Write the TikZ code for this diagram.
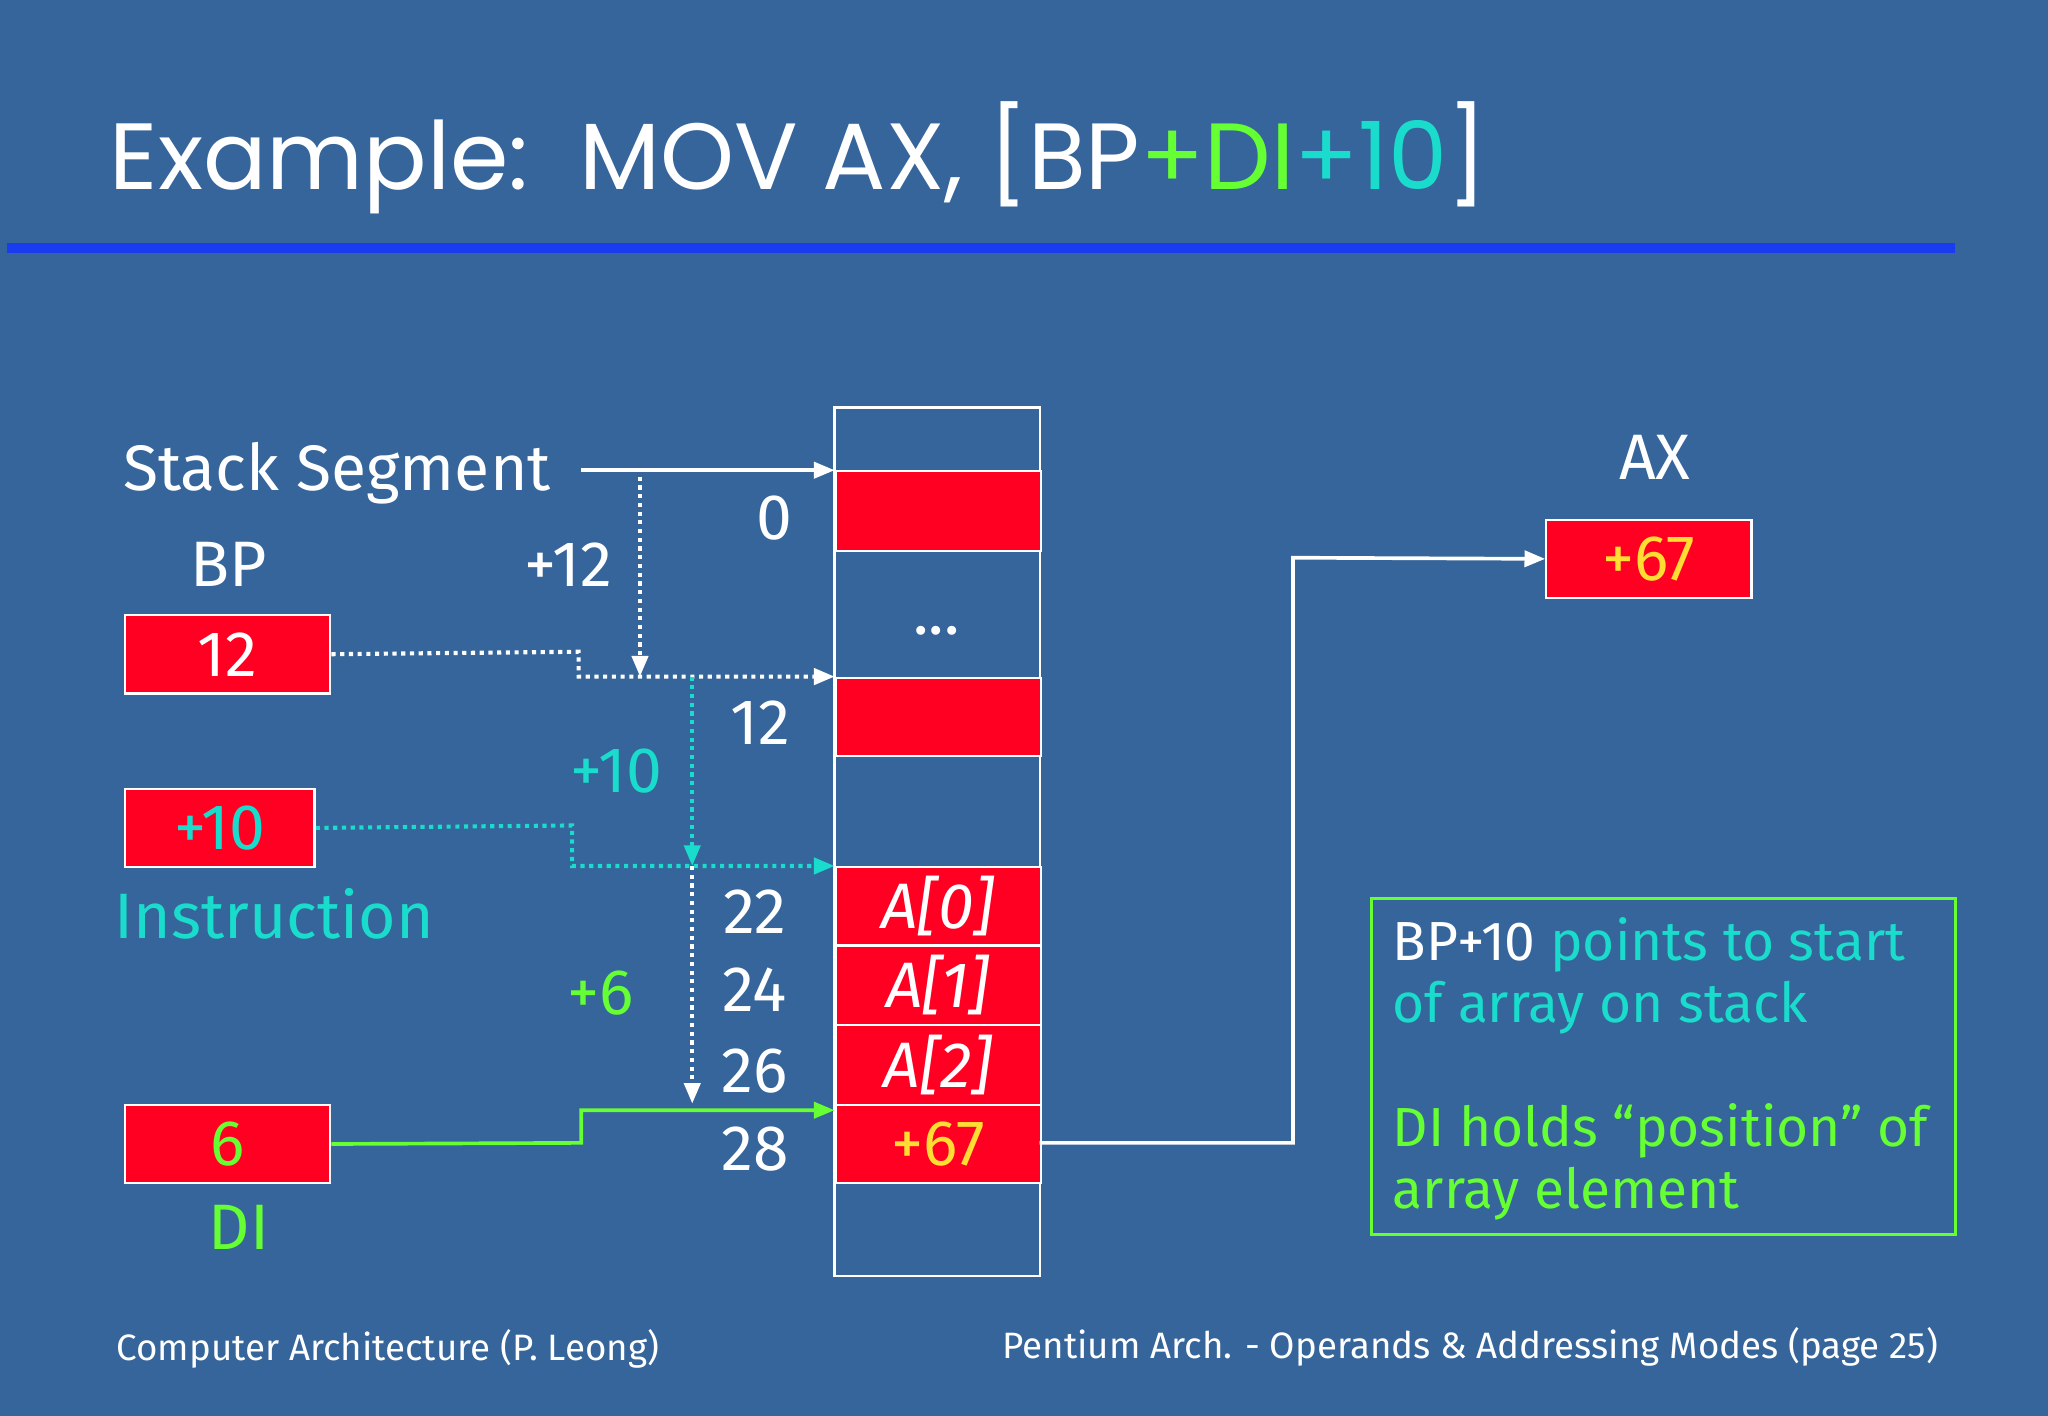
\documentclass[tikz,border=0pt]{standalone}
\usepackage{fontspec}
\setmainfont{Fira Sans}
\newfontfamily\titlefont{Poppins}
\definecolor{bg}{HTML}{35659A}
\definecolor{bline}{HTML}{1A3CF0}
\definecolor{cred}{HTML}{FF0022}
\definecolor{ccyan}{HTML}{1ADCCC}
\definecolor{cgreen}{HTML}{66FF33}
\definecolor{cyel}{HTML}{FFDD33}
\usetikzlibrary{arrows.meta}
\begin{document}
\begin{tikzpicture}[x=0.02cm,y=-0.02cm,
  cell/.style={draw=white,line width=1pt},
  redcell/.style={cell,fill=cred},
  lbl/.style={text=white,font=\fontsize{28}{30}\selectfont},
  arr/.style={line width=1.6pt,-{Triangle[length=9pt,width=7pt]}},
  dots/.style={line width=1.8pt,dotted,-{Triangle[length=9pt,width=7pt]}}]
\fill[bg] (0,0) rectangle (1568,1084);
\useasboundingbox (0,0) rectangle (1568,1084);
\node[anchor=base west,text=white,font=\titlefont\fontsize{41}{45}\selectfont] (title) at (78,145) {Example:\ \ MOV AX, [BP\textcolor{cgreen}{+DI}\textcolor{ccyan}{+10}]};
\fill[bline] (5,186) rectangle (1497,194);
% memory column
\draw[cell] (639,312) rectangle (796,977);
\node[redcell,minimum width=157*0.02cm,minimum height=61*0.02cm,anchor=north west] (m0) at (639,360) {};
\node[lbl] (dots) at (717,483) {...};
\node[redcell,minimum width=157*0.02cm,minimum height=60*0.02cm,anchor=north west] (m12) at (639,518) {};
\node[redcell,lbl,minimum width=157*0.02cm,minimum height=60*0.02cm,anchor=north west] (a0) at (639,663) {\textit{A[0]}};
\node[redcell,lbl,minimum width=157*0.02cm,minimum height=61*0.02cm,anchor=north west] (a1) at (639,723) {\textit{A[1]}};
\node[redcell,lbl,minimum width=157*0.02cm,minimum height=61*0.02cm,anchor=north west] (a2) at (639,784) {\textit{A[2]}};
\node[redcell,lbl,text=cyel,minimum width=157*0.02cm,minimum height=60*0.02cm,anchor=north west] (a3) at (639,845) {+67};
\node[lbl] (l0) at (593,397) {0};
\node[lbl] (l12) at (582,553) {12};
\node[lbl] (l22) at (578,698) {22};
\node[lbl] (l24) at (578,758) {24};
\node[lbl] (l26) at (578,820) {26};
\node[lbl] (l28) at (578,880) {28};
% left side
\node[lbl] (ss) at (258,362) {Stack Segment};
\node[lbl] (bpl) at (175,432) {BP};
\node[redcell,lbl,minimum width=157*0.02cm,minimum height=60*0.02cm,anchor=north west] (bp) at (95,470) {12};
\node[lbl] (p12) at (435,432) {+12};
\node[redcell,lbl,text=ccyan,minimum width=145*0.02cm,minimum height=60*0.02cm,anchor=north west] (ins) at (95,603) {+10};
\node[lbl,text=ccyan] (p10) at (472,590) {+10};
\node[lbl,text=ccyan] (insl) at (210,700) {Instruction};
\node[redcell,lbl,text=cgreen,minimum width=157*0.02cm,minimum height=60*0.02cm,anchor=north west] (di) at (95,845) {6};
\node[lbl,text=cgreen] (dil) at (183,940) {DI};
\node[lbl,text=cgreen] (p6) at (460,760) {+6};
\coordinate (t0) at (639,360);
\coordinate (t12) at (639,518);
\coordinate (t22) at (639,663);
\coordinate (t28) at (639,850);
\draw[arr,white] (445,360) -- (t0);
\draw[dots,white] (bp.east) -- (443,499) -- (443,518) -- (t12);
\draw[dots,white] (490,365) -- (490,518);
\draw[dots,ccyan] (ins.east) -- (438,632) -- (438,663) -- (t22);
\draw[dots,ccyan] (530,518) -- (530,663);
\draw[dots,white] (530,663) -- (530,845);
\draw[arr,cgreen] (di.east) -- (445,875) -- (445,850) -- (t28);
% AX
\node[lbl] (axl) at (1267,350) {AX};
\node[redcell,lbl,text=cyel,minimum width=157*0.02cm,minimum height=60*0.02cm,anchor=north west] (ax) at (1183,397) {+67};
\draw[arr,white] (796,875) -- (990,875) -- (990,427) -- (ax.west);
% note
\draw[cgreen,line width=1.2pt] (1050,688) rectangle (1497,945);
\node[anchor=north west,align=left,font=\fontsize{24}{27}\selectfont,text=ccyan,inner sep=0pt] (note) at (1066,702)
 {\textcolor{white}{BP+10} points to start\\of array on stack\\[27pt]\textcolor{cgreen}{DI holds “position” of}\\\textcolor{cgreen}{array element}};
% footer
\node[anchor=west,text=white,font=\fontsize{16}{18}\selectfont] (f1) at (83,1033) {Computer Architecture (P. Leong)};
\node[anchor=east,text=white,font=\fontsize{16}{18}\selectfont] (f2) at (1490,1031) {Pentium Arch. - Operands \& Addressing Modes (page 25)};
\end{tikzpicture}
\end{document}
